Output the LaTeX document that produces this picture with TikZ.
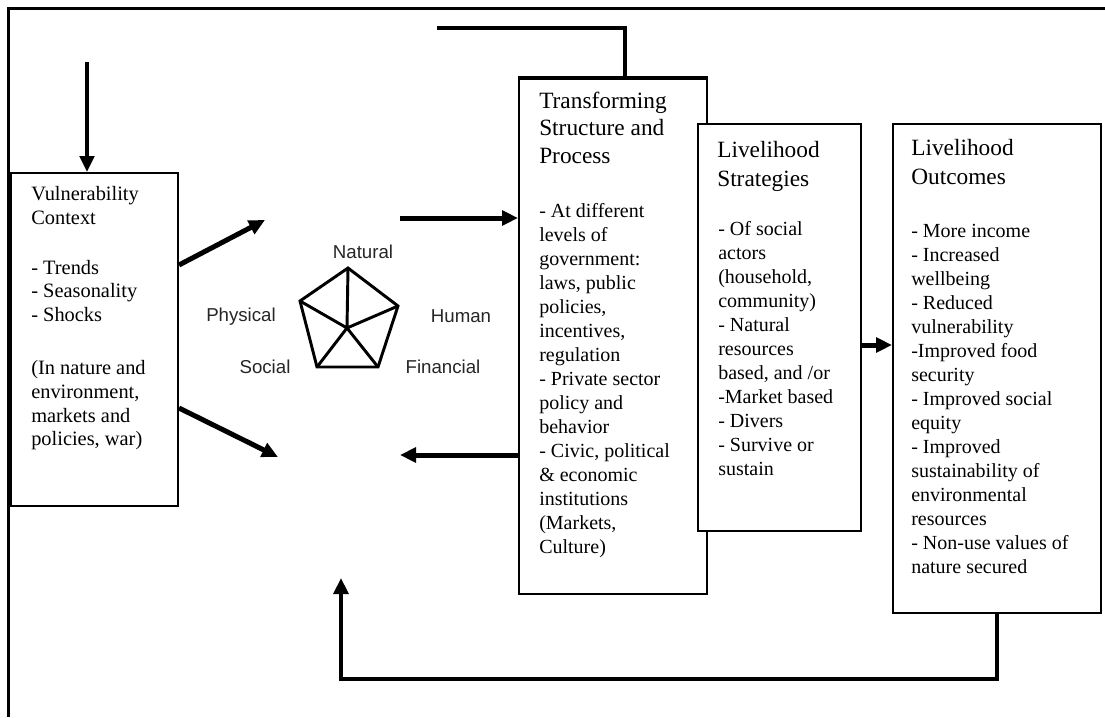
\documentclass[tikz,border=0pt]{standalone}
\usepackage{fontspec}
\setmainfont{Liberation Serif}
\newfontfamily\labelfont{Liberation Sans}
\usetikzlibrary{arrows.meta,calc}
\begin{document}
\begin{tikzpicture}[x=0.75pt,y=-0.75pt,
  box/.style={draw, line width=1.5pt, anchor=north west, inner sep=0pt, fill=white},
  arr/.style={line width=3.75pt, -{Triangle[length=12pt,width=11pt]}},
  title/.style={anchor=north west, inner sep=0pt, align=left, font=\fontsize{17.5}{20.6}\selectfont, yshift=14.42pt},
  body/.style={anchor=north west, inner sep=0pt, align=left, font=\fontsize{15}{18}\selectfont, yshift=12.6pt},
  vtext/.style={anchor=north west, inner sep=0pt, align=left, font=\fontsize{15.3}{17.8}\selectfont, yshift=12.46pt},
  caplabel/.style={inner sep=0pt, font=\labelfont\fontsize{14}{16}\selectfont, text=black!85}]
\path[use as bounding box, fill=white] (0,0) rectangle (1105,717);

% outer frame
\draw[line width=2.25pt] (8,717) -- (8,9) -- (1105,9);

% boxes
\node[box, minimum width=125.25pt, minimum height=249.75pt] (vuln) at (10,172) {};
\draw[line width=3pt] (vuln.north west) -- (vuln.south west);
\node[box, minimum width=141pt, minimum height=386.25pt] (trans) at (518,78) {};
\draw[line width=3pt] (trans.north west) -- (trans.north east);
\node[box, minimum width=122.25pt, minimum height=305.25pt] (ls) at (697,123) {};
\node[box, minimum width=156pt, minimum height=366.75pt] (out) at (892,123) {};

% texts
\node[vtext] (vulntxt) at (31,200) {\strut Vulnerability\\Context\\[19.7pt]- Trends\\- Seasonality\\- Shocks\\[22pt](In nature and\\environment,\\markets and\\policies, war)};

\node[title] (transtitle) at (539,108) {\strut Transforming\\Structure and\\Process};
\node[body] (transtxt) at (539,217) {\strut - At different\\levels of\\government:\\laws, public\\policies,\\incentives,\\regulation\\- Private sector\\policy and\\behavior\\- Civic, political\\\& economic\\institutions\\(Markets,\\Culture)};

\node[title] (lstitle) at (717,157) {\strut Livelihood\\[1.5pt]Strategies};
\node[body] (lstxt) at (718,235) {\strut - Of social\\actors\\(household,\\community)\\- Natural\\resources\\based, and /or\\-Market based\\- Divers\\- Survive or\\sustain};

\node[title] (outtitle) at (911,155) {\strut Livelihood\\[1.5pt]Outcomes};
\node[body] (outtxt) at (911,237) {\strut - More income\\- Increased\\wellbeing\\- Reduced\\vulnerability\\-Improved food\\security\\- Improved social\\equity\\- Improved\\sustainability of\\environmental\\resources\\- Non-use values of\\nature secured};

% pentagon (asset pentagon)
\coordinate (pn) at (348,268);
\coordinate (pl) at (300,301);
\coordinate (pr) at (398,306);
\coordinate (pbl) at (317,367);
\coordinate (pbr) at (378,367);
\coordinate (pc) at (347,328);
\draw[line width=2.2pt, line join=miter] (pn) -- (pr) -- (pbr) -- (pbl) -- (pl) -- cycle;
\draw[line width=2.2pt] (pc) -- (pn) (pc) -- (pr) (pc) -- (pbr) (pc) -- (pbl) (pc) -- (pl);
\node[caplabel] (natural) at (363,252) {Natural};
\node[caplabel] (physical) at (241,317) {Physical};
\node[caplabel] (human) at (461,316) {Human};
\node[caplabel] (social) at (265,367) {Social};
\node[caplabel] (financial) at (443,367) {Financial};

% free ends
\coordinate (vtop) at (87,62);
\coordinate (a1) at (265,220);
\coordinate (a2) at (278,457);
\coordinate (a3) at (400,218);
\coordinate (a4) at (400,455);
\coordinate (topend) at (437,28);
\coordinate (fbb) at (341,679);
\coordinate (fb) at (341,578);

% connectors
\draw[line width=2.6pt, -{Triangle[length=12pt,width=11pt]}] (vtop) -- (vtop |- vuln.north);
\draw[arr] (vuln.east |- 0,265) -- (a1);
\draw[arr] (vuln.east |- 0,408) -- (a2);
\draw[arr] (a3) -- (a3 -| trans.west);
\draw[arr] (a4 -| trans.west) -- (a4);
\draw[arr] (ls.east |- 0,345) -- (out.west |- 0,345);
\draw[line width=2.5pt] ([xshift=80.25pt]trans.north west) |- (topend);
\draw[line width=3.2pt, -{Triangle[length=12pt,width=11pt]}] (out.south) |- (fbb) -- (fb);
\end{tikzpicture}
\end{document}
